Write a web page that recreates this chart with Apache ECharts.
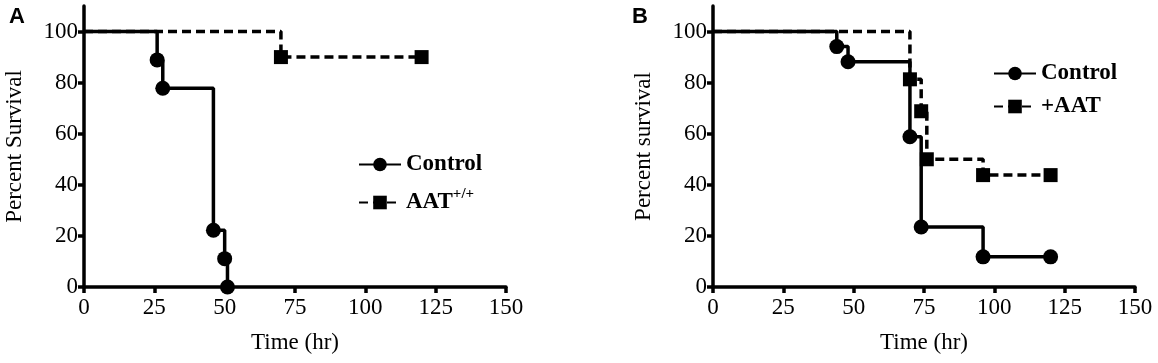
<!DOCTYPE html>
<html>
<head>
<meta charset="utf-8">
<script src="https://cdn.jsdelivr.net/npm/echarts@6/dist/echarts.min.js"></script>
<style>
  html, body { margin: 0; padding: 0; background: #fff; }
  #chart { width: 1158px; height: 363px; }
</style>
</head>
<body>
<div id="chart"></div>
<script>
// survival curves
var yTicks = [0, 20, 40, 60, 80, 100]

// panel A
var aControlTime = [0, 26, 28, 46, 50, 51]
var aControlSurv = [100, 88.9, 77.8, 22.2, 11.1, 0]
var aAatTime = [0, 70, 120]
var aAatSurv = [100, 90, 90]

// panel B
var bControlTime = [0, 44, 48, 70, 74, 96, 120]
var bControlSurv = [100, 94.1, 88.2, 58.8, 23.5, 11.8, 11.8]
var bAatTime = [0, 70, 74, 76, 96, 120]
var bAatSurv = [100, 81.3, 68.8, 50, 43.8, 43.8]

var serif = '"Liberation Serif", "Times New Roman", serif'

function kmSeries (name, time, surv, dashed, symbol, idx) {
  return {
    name: name,
    type: 'line',
    step: 'end',
    xAxisIndex: idx,
    yAxisIndex: idx,
    clip: false,
    symbol: symbol,
    symbolSize: symbol === 'rect' ? 14 : 15,
    showAllSymbol: true,
    data: time.map(function (t, i) {
      // no marker at the start point
      if (i === 0) return { value: [t, surv[i]], symbol: 'none' }
      return [t, surv[i]]
    }),
    lineStyle: { color: '#000', width: 3.5, type: dashed ? [9, 5] : 'solid' },
    itemStyle: { color: '#000' }
  }
}

function xAxis (idx) {
  return {
    type: 'value',
    gridIndex: idx,
    min: 0,
    max: 150,
    interval: 25,
    name: 'Time (hr)',
    nameLocation: 'middle',
    nameGap: 44,
    nameTextStyle: { fontFamily: serif, fontSize: 23, color: '#000' },
    axisLine: { lineStyle: { color: '#000', width: 3.5 } },
    axisTick: { length: 6, lineStyle: { color: '#000', width: 3.5 } },
    axisLabel: { fontFamily: serif, fontSize: 23, color: '#000', margin: 9 },
    splitLine: { show: false }
  }
}

function yAxis (idx, name) {
  return {
    type: 'value',
    gridIndex: idx,
    min: 0,
    max: 110,
    interval: 20,
    name: name,
    nameLocation: 'middle',
    nameGap: 58,
    nameTextStyle: { fontFamily: serif, fontSize: 23, color: '#000' },
    axisLine: { show: true, lineStyle: { color: '#000', width: 3.5 } },
    axisTick: { show: true, length: 6, customValues: yTicks, lineStyle: { color: '#000', width: 3.5 } },
    axisLabel: { fontFamily: serif, fontSize: 23, color: '#000', margin: 6, customValues: yTicks },
    splitLine: { show: false }
  }
}

var legendText = {
  fontFamily: serif,
  fontSize: 23,
  fontWeight: 'bold',
  color: '#000',
  rich: {
    sup: { fontFamily: serif, fontSize: 15, fontWeight: 'bold', color: '#000', padding: [0, 0, 16, 0] }
  }
}

var chart = echarts.init(document.getElementById('chart'))
var option = {
  animation: false,
  backgroundColor: '#fff',
  grid: [
    { left: 84, top: 6, width: 422, height: 281 },
    { left: 713, top: 6, width: 422, height: 281 }
  ],
  xAxis: [xAxis(0), xAxis(1)],
  yAxis: [yAxis(0, 'Percent Survival'), yAxis(1, 'Percent survival')],
  legend: [
    {
      left: 358,
      top: 153,
      padding: 0,
      orient: 'vertical',
      selectedMode: false,
      itemWidth: 42,
      itemHeight: 17,
      itemGap: 11,
      data: ['Control', 'AAT+/+'],
      formatter: function (name) {
        return name === 'AAT+/+' ? 'AAT{sup|+/+}' : name
      },
      textStyle: legendText
    },
    {
      left: 993,
      top: 62,
      padding: 0,
      orient: 'vertical',
      selectedMode: false,
      itemWidth: 42,
      itemHeight: 17,
      itemGap: 10,
      data: ['Control ', '+AAT'],
      formatter: function (name) { return name.trim() },
      textStyle: legendText
    }
  ],
  graphic: [
    { type: 'text', left: 9, top: 6, style: { text: 'A', font: 'bold 22px "Liberation Sans", Arial, sans-serif', fill: '#000' } },
    { type: 'text', left: 632, top: 6, style: { text: 'B', font: 'bold 22px "Liberation Sans", Arial, sans-serif', fill: '#000' } }
  ],
  series: [
    kmSeries('Control', aControlTime, aControlSurv, false, 'circle', 0),
    kmSeries('AAT+/+', aAatTime, aAatSurv, true, 'rect', 0),
    kmSeries('Control ', bControlTime, bControlSurv, false, 'circle', 1),
    kmSeries('+AAT', bAatTime, bAatSurv, true, 'rect', 1)
  ]
}
chart.setOption(option)
</script>
</body>
</html>
